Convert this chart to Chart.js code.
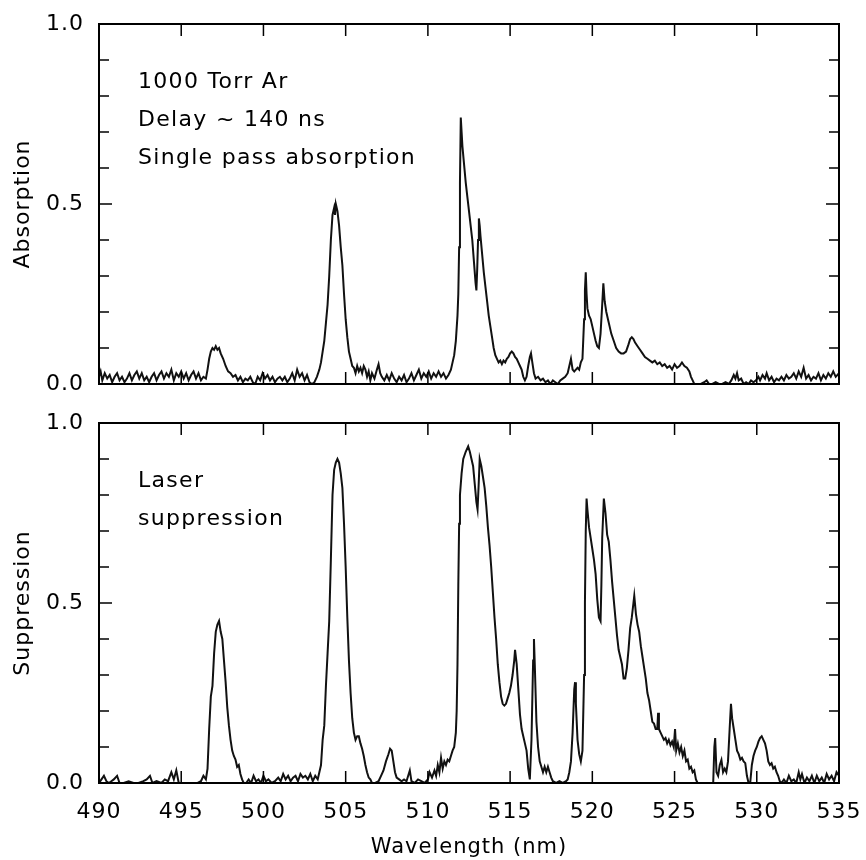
<!DOCTYPE html>
<html>
<head>
<meta charset="utf-8">
<script src="https://cdn.jsdelivr.net/npm/chart.js@4.4.1/dist/chart.umd.min.js"></script>
<style>
  html, body { margin: 0; padding: 0; background: #fff; }
  #wrap { position: relative; width: 866px; height: 860px; }
  #wrap canvas { position: absolute; left: 0; }
  #topChart { top: 0; }
  #bottomChart { top: 400px; }
</style>
</head>
<body>
<div id="wrap">
  <canvas id="topChart" width="866" height="400"></canvas>
  <canvas id="bottomChart" width="866" height="460"></canvas>
</div>
<script>
// tick positions
const xMajorTicks = [495, 500, 505, 510, 515, 520, 525, 530];
const yMinorTicks = [0.1, 0.2, 0.3, 0.4, 0.6, 0.7, 0.8, 0.9];
const yMajorTicks = [0.5];

const topNotes = ["1000 Torr Ar", "Delay ~ 140 ns", "Single pass absorption"];
const bottomNotes = ["Laser", "suppression"];

// [wavelength nm, absorption]
const absorption = [
  [490.00,0.020],[490.10,0.035],[490.20,0.010],[490.35,0.030],[490.50,0.015],[490.65,0.025],[490.80,0.005],[490.95,0.020],
  [491.10,0.030],[491.25,0.010],[491.40,0.020],[491.55,0.005],[491.70,0.015],[491.85,0.030],[492.00,0.010],[492.15,0.025],
  [492.30,0.035],[492.45,0.015],[492.60,0.030],[492.75,0.010],[492.90,0.020],[493.05,0.005],[493.20,0.020],[493.35,0.030],
  [493.50,0.010],[493.65,0.025],[493.80,0.035],[493.95,0.015],[494.10,0.030],[494.25,0.020],[494.40,0.040],[494.55,0.010],
  [494.70,0.030],[494.85,0.020],[495.00,0.035],[495.15,0.015],[495.30,0.030],[495.45,0.010],[495.60,0.025],[495.75,0.035],
  [495.90,0.015],[496.05,0.030],[496.20,0.010],[496.35,0.020],[496.50,0.015],
  [496.60,0.040],[496.70,0.070],[496.80,0.090],[496.90,0.100],[497.00,0.095],[497.10,0.105],[497.20,0.095],[497.30,0.100],
  [497.40,0.085],[497.55,0.070],[497.70,0.050],[497.85,0.035],[498.00,0.030],[498.15,0.020],[498.30,0.025],[498.45,0.010],
  [498.60,0.020],[498.75,0.005],[498.90,0.015],[499.05,0.010],[499.20,0.020],[499.35,0.005],[499.50,0.000],[499.65,0.020],
  [499.80,0.010],[499.95,0.030],[500.10,0.015],[500.25,0.025],[500.40,0.010],[500.55,0.020],[500.70,0.005],[500.85,0.015],
  [501.00,0.020],[501.15,0.010],[501.30,0.020],[501.45,0.005],[501.60,0.015],[501.75,0.030],[501.90,0.010],[502.05,0.040],
  [502.20,0.020],[502.35,0.030],[502.50,0.010],[502.65,0.025],[502.80,0.005],[502.95,0.000],[503.10,0.005],[503.25,0.020],
  [503.40,0.040],[503.50,0.060],[503.60,0.090],[503.70,0.120],[503.80,0.170],[503.90,0.220],[504.00,0.300],[504.10,0.400],
  [504.20,0.470],[504.30,0.490],[504.35,0.470],[504.40,0.500],[504.50,0.480],[504.60,0.440],[504.70,0.380],[504.80,0.330],
  [504.90,0.250],[505.00,0.180],[505.10,0.130],[505.20,0.090],[505.30,0.070],[505.40,0.050],
  [505.50,0.045],[505.60,0.030],[505.70,0.050],[505.80,0.035],[505.90,0.045],[506.00,0.030],[506.10,0.050],[506.20,0.040],
  [506.30,0.020],[506.40,0.035],[506.50,0.010],[506.60,0.030],[506.75,0.015],[506.90,0.040],[507.00,0.055],[507.10,0.030],
  [507.20,0.020],[507.35,0.010],[507.50,0.025],[507.65,0.010],[507.80,0.030],[507.95,0.015],[508.10,0.005],[508.25,0.020],
  [508.40,0.010],[508.55,0.025],[508.70,0.005],[508.85,0.015],[509.00,0.030],[509.15,0.010],[509.30,0.025],[509.45,0.040],
  [509.60,0.015],[509.75,0.030],[509.90,0.020],[510.05,0.035],[510.20,0.015],[510.35,0.030],[510.50,0.020],[510.65,0.035],
  [510.80,0.020],[510.95,0.030],[511.10,0.015],[511.25,0.025],
  [511.40,0.040],[511.50,0.060],[511.60,0.080],[511.70,0.120],[511.80,0.190],[511.85,0.250],[511.90,0.380],[511.95,0.560],
  [512.00,0.740],[512.05,0.700],[512.10,0.660],[512.20,0.610],[512.30,0.560],[512.40,0.520],[512.50,0.480],[512.60,0.440],
  [512.70,0.400],[512.80,0.340],[512.90,0.280],[512.95,0.260],[513.00,0.320],[513.05,0.400],[513.10,0.460],[513.15,0.440],
  [513.20,0.410],[513.30,0.360],[513.40,0.310],[513.50,0.270],[513.60,0.230],[513.70,0.190],[513.80,0.160],[513.90,0.130],
  [514.00,0.100],[514.10,0.080],[514.20,0.070],[514.30,0.060],[514.40,0.065],[514.50,0.055],[514.60,0.065],[514.70,0.060],
  [514.80,0.070],[514.90,0.075],[515.00,0.085],[515.10,0.090],[515.20,0.085],[515.30,0.075],[515.40,0.070],[515.50,0.060],
  [515.60,0.050],[515.70,0.040],[515.80,0.020],[515.90,0.010],[516.00,0.020],[516.10,0.050],[516.20,0.075],[516.27,0.085],
  [516.35,0.060],[516.45,0.030],[516.55,0.015],[516.70,0.020],[516.85,0.010],[517.00,0.015],[517.15,0.005],[517.30,0.010],
  [517.45,0.000],[517.60,0.010],[517.75,0.005],[517.90,0.000],[518.05,0.010],[518.20,0.015],[518.35,0.020],[518.50,0.030],
  [518.60,0.050],[518.70,0.070],[518.80,0.040],[518.90,0.035],[519.00,0.040],[519.10,0.045],[519.20,0.040],[519.30,0.060],
  [519.40,0.070],[519.50,0.180],[519.55,0.260],[519.60,0.310],[519.65,0.250],[519.70,0.210],[519.80,0.190],[519.90,0.180],
  [520.00,0.160],[520.10,0.140],[520.20,0.120],[520.30,0.105],[520.40,0.100],[520.50,0.140],[520.60,0.220],[520.67,0.280],
  [520.75,0.230],[520.85,0.200],[520.95,0.180],[521.05,0.160],[521.15,0.140],[521.30,0.120],[521.45,0.100],[521.60,0.090],
  [521.75,0.085],[521.90,0.085],[522.05,0.090],[522.20,0.110],[522.30,0.125],[522.40,0.130],[522.50,0.125],[522.60,0.115],
  [522.75,0.105],[522.90,0.095],[523.05,0.085],[523.20,0.075],[523.35,0.070],[523.50,0.065],[523.65,0.060],[523.80,0.065],
  [523.95,0.055],[524.10,0.060],[524.25,0.050],[524.40,0.055],[524.55,0.045],[524.70,0.050],[524.85,0.040],[525.00,0.055],
  [525.15,0.045],[525.30,0.050],[525.45,0.060],[525.60,0.050],[525.75,0.045],[525.90,0.035],[526.00,0.020],[526.10,0.010],
  [526.20,0.000],[526.40,0.000],[526.60,0.000],[526.80,0.005],[526.95,0.010],[527.10,0.000],[527.30,0.000],[527.50,0.005],
  [527.70,0.000],[527.90,0.000],[528.10,0.005],[528.30,0.000],[528.45,0.010],[528.60,0.025],[528.70,0.015],[528.80,0.030],
  [528.90,0.010],[529.05,0.015],[529.20,0.000],[529.35,0.005],[529.50,0.000],[529.65,0.010],[529.80,0.005],[529.95,0.010],
  [530.10,0.020],[530.20,0.010],[530.35,0.025],[530.50,0.015],[530.60,0.030],[530.75,0.010],[530.90,0.020],[531.05,0.005],
  [531.20,0.015],[531.35,0.010],[531.50,0.020],[531.65,0.010],[531.80,0.025],[531.95,0.015],[532.10,0.020],[532.25,0.030],
  [532.40,0.015],[532.55,0.035],[532.70,0.020],[532.85,0.045],[533.00,0.015],[533.15,0.025],[533.30,0.010],[533.45,0.020],
  [533.60,0.015],[533.75,0.030],[533.90,0.010],[534.05,0.025],[534.20,0.015],[534.35,0.030],[534.50,0.020],[534.65,0.035],
  [534.80,0.020],[535.00,0.030]
];

// [wavelength nm, suppression]
const suppression = [
  [490.00,0.000],[490.15,0.010],[490.30,0.020],[490.45,0.005],[490.60,0.000],[490.75,0.005],[490.90,0.010],[491.10,0.020],
  [491.25,0.000],[491.50,0.000],[491.80,0.005],[492.10,0.000],[492.40,0.000],[492.70,0.005],[492.90,0.010],[493.10,0.020],
  [493.25,0.000],[493.50,0.005],[493.80,0.000],[494.00,0.010],[494.20,0.005],[494.40,0.030],[494.55,0.010],[494.70,0.035],
  [494.85,0.000],[495.00,0.000],[495.20,0.000],[495.40,0.000],[495.60,0.000],[495.80,0.000],[496.00,0.000],[496.20,0.005],
  [496.35,0.020],[496.50,0.010],[496.60,0.040],[496.70,0.150],[496.80,0.240],[496.90,0.270],[497.00,0.360],[497.10,0.420],
  [497.20,0.440],[497.30,0.450],[497.40,0.420],[497.50,0.400],[497.60,0.340],[497.70,0.280],[497.80,0.210],[497.90,0.160],
  [498.00,0.120],[498.10,0.090],[498.20,0.075],[498.30,0.065],[498.40,0.045],[498.50,0.050],[498.60,0.025],[498.70,0.010],
  [498.80,0.000],[498.95,0.000],[499.10,0.010],[499.25,0.000],[499.40,0.020],[499.55,0.005],[499.70,0.010],[499.85,0.000],
  [500.00,0.020],[500.15,0.005],[500.30,0.010],[500.50,0.000],[500.70,0.005],[500.90,0.015],[501.05,0.005],[501.20,0.025],
  [501.35,0.010],[501.50,0.020],[501.65,0.005],[501.80,0.015],[501.95,0.020],[502.10,0.005],[502.25,0.025],[502.40,0.015],
  [502.55,0.020],[502.70,0.010],[502.85,0.025],[503.00,0.005],[503.15,0.020],[503.30,0.010],[503.40,0.030],[503.50,0.050],
  [503.60,0.120],[503.70,0.160],[503.80,0.270],[503.90,0.360],[504.00,0.450],[504.10,0.620],[504.20,0.800],[504.30,0.870],
  [504.40,0.890],[504.50,0.900],[504.60,0.890],[504.70,0.860],[504.80,0.820],[504.90,0.720],[505.00,0.600],[505.10,0.460],
  [505.20,0.340],[505.30,0.250],[505.40,0.180],[505.50,0.140],[505.60,0.120],[505.70,0.130],[505.80,0.130],[505.90,0.110],
  [506.00,0.095],[506.10,0.075],[506.20,0.050],[506.30,0.030],[506.40,0.015],[506.50,0.010],[506.60,0.000],[506.80,0.000],
  [507.00,0.005],[507.15,0.020],[507.30,0.035],[507.45,0.060],[507.60,0.080],[507.70,0.095],[507.80,0.090],[507.90,0.060],
  [508.00,0.030],[508.10,0.015],[508.25,0.010],[508.40,0.005],[508.55,0.010],[508.70,0.005],[508.90,0.035],[509.00,0.005],
  [509.20,0.000],[509.40,0.010],[509.60,0.005],[509.80,0.000],[510.00,0.010],[510.10,0.030],[510.25,0.015],[510.40,0.035],
  [510.50,0.020],[510.60,0.050],[510.70,0.030],[510.80,0.070],[510.90,0.040],[511.00,0.060],[511.10,0.050],[511.20,0.065],
  [511.30,0.060],[511.40,0.075],[511.50,0.090],[511.60,0.100],[511.70,0.140],[511.75,0.200],[511.80,0.330],[511.85,0.550],
  [511.90,0.720],[511.95,0.800],[512.05,0.860],[512.15,0.900],[512.30,0.920],[512.45,0.935],[512.55,0.920],[512.65,0.900],
  [512.75,0.880],[512.85,0.830],[512.95,0.780],[513.02,0.760],[513.08,0.820],[513.15,0.900],[513.25,0.880],[513.35,0.850],
  [513.45,0.820],[513.55,0.770],[513.65,0.710],[513.75,0.660],[513.85,0.600],[513.95,0.530],[514.05,0.460],[514.15,0.400],
  [514.25,0.330],[514.35,0.280],[514.45,0.240],[514.55,0.220],[514.65,0.215],[514.75,0.220],[514.85,0.235],[514.95,0.250],
  [515.05,0.270],[515.15,0.300],[515.25,0.340],[515.30,0.370],[515.40,0.330],[515.50,0.260],[515.60,0.190],[515.70,0.150],
  [515.80,0.130],[515.90,0.110],[516.00,0.090],[516.10,0.040],[516.20,0.010],[516.30,0.120],[516.40,0.340],[516.45,0.400],
  [516.50,0.330],[516.60,0.170],[516.70,0.100],[516.80,0.060],[516.90,0.045],[517.00,0.030],[517.10,0.045],[517.20,0.030],
  [517.30,0.045],[517.40,0.030],[517.50,0.015],[517.60,0.005],[517.80,0.000],[518.00,0.005],[518.20,0.000],[518.40,0.005],
  [518.50,0.010],[518.60,0.030],[518.70,0.060],[518.80,0.140],[518.90,0.260],[518.95,0.280],[519.00,0.220],[519.10,0.120],
  [519.20,0.080],[519.30,0.060],[519.40,0.090],[519.50,0.300],[519.55,0.500],[519.60,0.700],[519.65,0.790],[519.70,0.760],
  [519.80,0.710],[519.90,0.680],[520.00,0.650],[520.10,0.620],[520.20,0.580],[520.30,0.510],[520.40,0.460],[520.50,0.450],
  [520.55,0.550],[520.60,0.680],[520.70,0.790],[520.80,0.750],[520.90,0.690],[521.00,0.670],[521.10,0.620],[521.20,0.560],
  [521.30,0.510],[521.40,0.460],[521.50,0.410],[521.60,0.370],[521.70,0.350],[521.80,0.330],[521.90,0.290],[522.00,0.290],
  [522.10,0.320],[522.20,0.370],[522.30,0.430],[522.40,0.460],[522.50,0.500],[522.55,0.520],[522.65,0.470],[522.75,0.440],
  [522.85,0.420],[522.95,0.380],[523.05,0.350],[523.15,0.320],[523.25,0.290],[523.35,0.250],[523.45,0.230],[523.55,0.200],
  [523.65,0.170],[523.75,0.165],[523.85,0.150],[523.95,0.150],[524.00,0.195],[524.05,0.150],[524.15,0.140],[524.25,0.130],
  [524.35,0.120],[524.45,0.125],[524.55,0.110],[524.65,0.120],[524.75,0.105],[524.85,0.115],[524.95,0.100],[525.03,0.150],
  [525.10,0.090],[525.20,0.110],[525.30,0.085],[525.40,0.100],[525.50,0.075],[525.60,0.090],[525.70,0.060],[525.80,0.065],
  [525.90,0.040],[526.00,0.045],[526.10,0.030],[526.20,0.035],[526.30,0.010],[526.40,0.000],[526.60,0.000],[526.80,0.000],
  [527.00,0.000],[527.20,0.000],[527.35,0.000],[527.42,0.100],[527.47,0.125],[527.55,0.030],[527.65,0.020],[527.75,0.050],
  [527.85,0.064],[527.95,0.030],[528.05,0.040],[528.15,0.030],[528.25,0.060],[528.35,0.150],[528.43,0.220],[528.50,0.180],
  [528.60,0.150],[528.70,0.120],[528.80,0.090],[528.90,0.080],[529.00,0.065],[529.10,0.070],[529.20,0.060],[529.30,0.055],
  [529.40,0.020],[529.50,0.000],[529.60,0.000],[529.70,0.050],[529.80,0.075],[529.90,0.090],[530.00,0.100],[530.10,0.115],
  [530.20,0.125],[530.30,0.130],[530.40,0.120],[530.50,0.110],[530.60,0.090],[530.70,0.060],[530.80,0.050],[530.90,0.055],
  [531.00,0.040],[531.10,0.045],[531.20,0.030],[531.30,0.020],[531.40,0.005],[531.50,0.000],[531.65,0.010],[531.80,0.000],
  [531.95,0.020],[532.10,0.005],[532.25,0.010],[532.40,0.000],[532.55,0.030],[532.65,0.010],[532.75,0.025],[532.90,0.000],
  [533.05,0.015],[533.20,0.005],[533.35,0.020],[533.50,0.000],[533.65,0.020],[533.80,0.005],[533.95,0.015],[534.10,0.000],
  [534.25,0.025],[534.40,0.010],[534.55,0.020],[534.70,0.005],[534.85,0.030],[535.00,0.020]
];

const FONT = "'DejaVu Sans', sans-serif";

// box, inward tick marks and the text notes inside each panel
const panelDecor = {
  id: 'panelDecor',
  beforeDraw(chart) {
    chart.ctx.letterSpacing = '1px';
  },
  afterDatasetsDraw(chart, args, opts) {
    const { ctx, chartArea: a, scales: { x, y } } = chart;
    ctx.save();
    ctx.strokeStyle = '#000';
    ctx.lineWidth = 1.5;
    ctx.beginPath();
    xMajorTicks.forEach(v => {
      const px = x.getPixelForValue(v);
      ctx.moveTo(px, a.bottom); ctx.lineTo(px, a.bottom - 12);
      ctx.moveTo(px, a.top); ctx.lineTo(px, a.top + 12);
    });
    yMinorTicks.forEach(v => {
      const py = y.getPixelForValue(v);
      ctx.moveTo(a.left, py); ctx.lineTo(a.left + 10, py);
      ctx.moveTo(a.right, py); ctx.lineTo(a.right - 10, py);
    });
    yMajorTicks.forEach(v => {
      const py = y.getPixelForValue(v);
      ctx.moveTo(a.left, py); ctx.lineTo(a.left + 13, py);
      ctx.moveTo(a.right, py); ctx.lineTo(a.right - 13, py);
    });
    ctx.stroke();
    ctx.lineWidth = 2;
    ctx.strokeRect(a.left, a.top, a.width, a.height);

    ctx.fillStyle = '#000';
    ctx.font = '22px ' + FONT;
    ctx.letterSpacing = '1.3px';
    ctx.textBaseline = 'middle';
    ctx.textAlign = 'left';
    (opts.lines || []).forEach((t, i) => {
      ctx.fillText(t, a.left + 39, a.top + 58 + i * 38);
    });
    ctx.restore();
  }
};

function makeChart(id, points, yTitle, notes, showX, pad) {
  return new Chart(document.getElementById(id), {
    type: 'scatter',
    data: {
      datasets: [{
        data: points.map(p => ({ x: p[0], y: p[1] })),
        showLine: true,
        borderColor: '#111',
        borderWidth: 2,
        pointRadius: 0,
        tension: 0
      }]
    },
    options: {
      responsive: false,
      animation: false,
      layout: { autoPadding: false, padding: pad },
      plugins: {
        legend: { display: false },
        tooltip: { enabled: false },
        panelDecor: { lines: notes }
      },
      scales: {
        x: {
          type: 'linear',
          display: showX,
          min: 490,
          max: 535,
          grid: { display: false },
          border: { display: false },
          ticks: {
            stepSize: 5,
            padding: 8,
            color: '#000',
            font: { family: FONT, size: 22 }
          },
          title: {
            display: true,
            text: 'Wavelength (nm)',
            color: '#000',
            font: { family: FONT, size: 21 },
            padding: { top: 0, bottom: 0 }
          },
          afterFit(scale) {
            scale.height = showX ? 77 : 0;
            scale.paddingLeft = 0;
            scale.paddingRight = 0;
          }
        },
        y: {
          min: 0,
          max: 1,
          grid: { display: false },
          border: { display: false },
          ticks: {
            stepSize: 0.5,
            padding: 7,
            color: '#000',
            font: { family: FONT, size: 22 },
            callback: v => v.toFixed(1)
          },
          title: {
            display: true,
            text: yTitle,
            color: '#000',
            font: { family: FONT, size: 22 },
            padding: { top: 10, bottom: 0 }
          },
          afterFit(scale) {
            scale.width = 99;
            scale.paddingTop = 0;
            scale.paddingBottom = 0;
          }
        }
      }
    },
    plugins: [panelDecor]
  });
}

makeChart('topChart', absorption, 'Absorption', topNotes, false,
  { top: 24, right: 27, bottom: 16, left: 0 });
makeChart('bottomChart', suppression, 'Suppression', bottomNotes, true,
  { top: 23, right: 27, bottom: 0, left: 0 });
</script>
</body>
</html>
